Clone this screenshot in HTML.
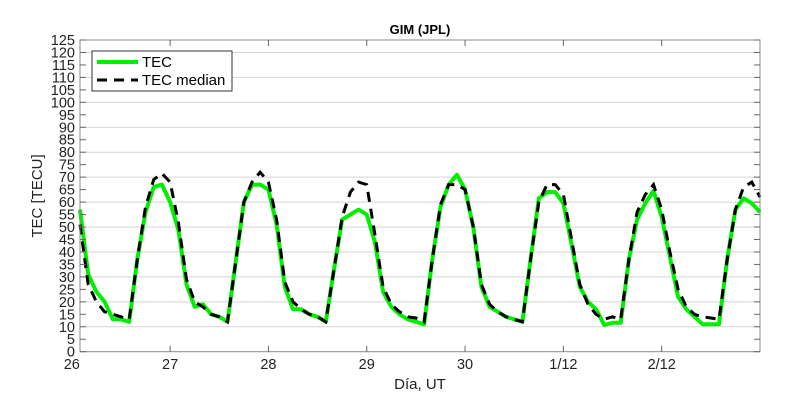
<!DOCTYPE html>
<html><head><meta charset="utf-8"><style>
body{margin:0;background:#fff;}
svg{display:block;font-family:"Liberation Sans",Arial,sans-serif;}
</style></head><body>
<svg id="chart" width="800" height="400">
<rect x="0" y="0" width="800" height="400" fill="#fff"/>
<g id="grid"></g>
<g id="series"></g>
<rect x="80" y="40" width="680" height="311.7" fill="none" stroke="#888" stroke-width="1"/>
<g id="axes"></g>
<text x="420" y="34" text-anchor="middle" font-size="13" font-weight="bold">GIM (JPL)</text>
<text x="420" y="389" text-anchor="middle" font-size="15" fill="#222">Día, UT</text>
<text transform="translate(42,196) rotate(-90)" text-anchor="middle" font-size="15" fill="#222">TEC [TECU]</text>
<g>
<rect x="92" y="51" width="140" height="40" fill="#fff" stroke="#333" stroke-width="1"/>
<line x1="97" y1="62" x2="138" y2="62" stroke="#00ee00" stroke-width="4"/>
<text x="142" y="67" font-size="15">TEC</text>
<line x1="97" y1="80" x2="138" y2="80" stroke="#000" stroke-width="3" stroke-dasharray="10,7"/>
<text x="142" y="85" font-size="15">TEC median</text>
</g>
</svg>
<script>
const dayLabels = ["26","27","28","29","30","1/12","2/12"];
const yTicks = [0,5,10,15,20,25,30,35,40,45,50,55,60,65,70,75,80,85,90,95,100,105,110,115,120,125];
const tecValues = [57,31,24,20,13,13,12,37,56,66,67,60,49,27,18,19,15,14,12,36,60,67,67,65,51,26,17,17,15,14,12,33,53,55,57,55,44,24,18,15,13,12,11,37,58,67,71,65,50,26,18,16,14,13,12,37,61.5,64,64,59.5,43,26,20,17,10.7,11.6,11.6,37,53,59.5,64.5,54,38,22,17,14,11,11,11,37,57,61.5,59.5,56];
const medianValues = [51,27,20,16,15,14,13,37,58,69,71.5,68,52,29,20,18,15,14,12,36,60,68,72,68,53,28,20,17,15,14,12,33,54,64,68,67,47,26,19,16,14,13.5,12,37,59,67,67,65,50,27,19,16,14,13,12,37,60,67,67,63,45,27,19,15,13,14,13,37,56,63,67,57,40,25,18,15,14,13.5,13,37,57,66,68,62];
const NS="http://www.w3.org/2000/svg";
const X0=80,X1=760,Y0=351.7,Y1=40;
const tMin=1/12,tMax=7;
const xs=t=>X0+(t-tMin)/(tMax-tMin)*(X1-X0);
const ys=v=>Y0-v/125*(Y0-Y1);
function mk(tag,attrs,parent){const e=document.createElementNS(NS,tag);for(const k in attrs)e.setAttribute(k,attrs[k]);parent.appendChild(e);return e;}
const grid=document.getElementById('grid'),axes=document.getElementById('axes'),series=document.getElementById('series');
yTicks.forEach(v=>{
  const y=ys(v);
  if(v%10===0&&v>0){const g=mk('line',{x1:X0,x2:X1,y1:y,y2:y,stroke:'#d4d4d4','stroke-width':1},grid);
  
  }
  const t1=mk('line',{x1:X0,x2:X0+6,y1:y,y2:y,stroke:'#666'},axes);
  
  
  const t2=mk('line',{x1:X1-6,x2:X1,y1:y,y2:y,stroke:'#666'},axes);
  
  
  const tx=mk('text',{x:75,y:y+5,'text-anchor':'end','font-size':14.5,fill:'#222'},axes);
  tx.textContent=v;
  
  
});
dayLabels.forEach((d,i)=>{
  const x=xs(i);
  if(i>0){
    const a=mk('line',{x1:x,x2:x,y1:Y0,y2:Y0-6,stroke:'#666'},axes);
    
    
    const b=mk('line',{x1:x,x2:x,y1:Y1,y2:Y1+6,stroke:'#666'},axes);
    
    
  }
  const tx=mk('text',{x:x,y:369,'text-anchor':'middle','font-size':14.5,fill:'#222'},axes);
  tx.textContent=d;
  
  
});
function pts(arr){return arr.map((v,k)=>xs(tMin+k/12).toFixed(1)+','+ys(v).toFixed(1)).join(' ');}
const lg=mk('polyline',{points:pts(tecValues),fill:'none',stroke:'#00ee00','stroke-width':4,'stroke-linejoin':'round'},series);


const lm=mk('polyline',{points:pts(medianValues),fill:'none',stroke:'#000','stroke-width':3,'stroke-dasharray':'10,7'},series);


</script>
</body></html>
